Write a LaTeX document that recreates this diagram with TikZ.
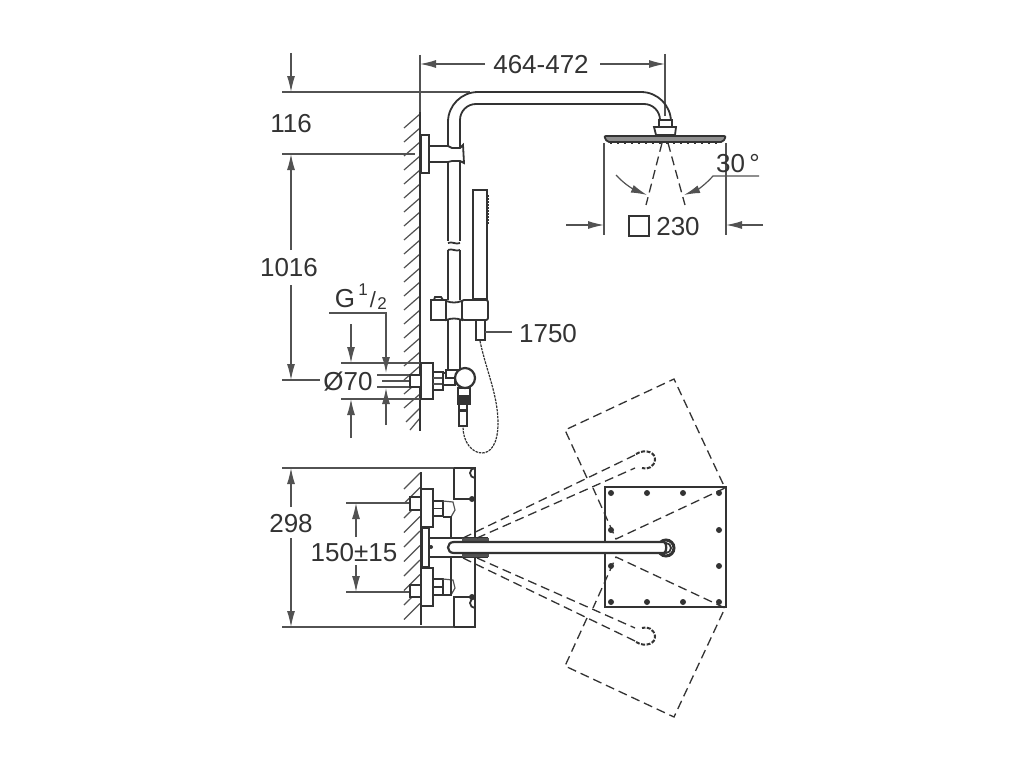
\documentclass[tikz,border=0pt]{standalone}
\usepackage{fontspec}
\setmainfont{Liberation Sans}
\usepackage{pgf,tikz}
\usetikzlibrary{arrows}
\usetikzlibrary{arrows.meta}
\definecolor{ink}{gray}{0.2}
\tikzset{
  part/.style={draw=ink,line width=1.8pt,fill=white},
  edge/.style={draw=ink,line width=1.8pt},
  thinline/.style={draw=ink!85,line width=1.2pt},
  dimarrow/.style={draw=ink!85,line width=1.2pt,-{Latex[length=16pt,width=8pt]}},
  ghost/.style={draw=ink,line width=1.3pt,dash pattern=on 9pt off 5pt},
  hose/.style={draw=ink,line width=1.2pt,dash pattern=on 2.5pt off 1pt},
  dimtext/.style={text=ink,inner sep=0pt,font=\fontsize{26}{30}\selectfont},
  smalltext/.style={text=ink,inner sep=0pt,font=\fontsize{17}{20}\selectfont},
  bolt/.style={fill=ink,draw=none}
}
\begin{document}
\begin{tikzpicture}[x=1pt,y=-1pt]
    \useasboundingbox[fill=white] (0,0) rectangle (1024,768);
    % wall, side view
    \begin{scope}
      \foreach \y in {114,128,...,394} {
        \draw[thinline] (420,\y) -- (404,\y+14);
      }
      \draw[thinline] (420,408) -- (406,422);
      \draw[thinline] (420,418) -- (410,430);
      \draw[thinline] (420,55) -- (420,112);
      \draw[edge] (420,112) -- (420,431);
    \end{scope}
    % dimensions, side view
    \begin{scope}
      \draw[thinline] (282,92) -- (470,92);
      \draw[thinline] (282,154) -- (415,154);
      \draw[thinline] (282,380) -- (320,380);
      \draw[dimarrow] (291,53) -- (291,92);
      \draw[dimarrow] (291,250) -- (291,154);
      \draw[dimarrow] (291,285) -- (291,380);
      \draw[dimarrow] (485,64) -- (420,64);
      \draw[dimarrow] (600,64) -- (665,64);
      \draw[thinline] (665,54) -- (665,116);
      \node[dimtext] (width) at (541,65) {464-472};
      \node[dimtext] (upper) at (291,124) {116};
      \node[dimtext] (height) at (289,268) {1016};
    \end{scope}
    % shower arm and head
    \begin{scope}
      \draw[edge,rounded corners=30pt] (448,300) -- (448,92) -- (671,92) -- (671,120);
      \draw[edge,rounded corners=16pt] (460,300) -- (460,104) -- (660,104) -- (660,120);
      \draw[part] (659,120) rectangle (672,127);
      \draw[part] (654,127) -- (656,135) -- (675,135) -- (676,127) -- cycle;
      \draw[edge,fill=ink!55,rounded corners=2pt] (604,136) -- (726,136) -- (723,142) -- (607,142) -- cycle;
      \draw[ghost,dash pattern=on 2pt off 5pt,line width=1.5pt] (610,143) -- (720,143);
      \draw[ghost] (662,143) -- (646,205);
      \draw[ghost] (668,143) -- (685,205);
      \draw[thinline] (604,143) -- (604,235);
      \draw[thinline] (726,143) -- (726,235);
      \draw[dimarrow] (566,225) -- (604,225);
      \draw[dimarrow] (763,225) -- (726,225);
      \draw[dimarrow] (616,175) .. controls (625,185) and (635,190) .. (647,195);
      \draw[dimarrow] (759,176) -- (713,176) .. controls (705,185) and (697,190) .. (684,195);
      \draw[edge,line width=2.2pt] (629,216) rectangle (649,236);
      \node[dimtext] (size) at (678,227) {230};
      \node[dimtext] (angle) at (738,164) {30\,°};
    \end{scope}
    % wall bracket
    \begin{scope}
      \draw[part] (421,135) rectangle (429,173);
      \draw[part] (429,146) -- (448,146) -- (452,148) -- (460,148) -- (463,145)
        -- (464,163) -- (460,161) -- (452,161) -- (448,162) -- (429,162) -- cycle;
    \end{scope}
    % rail with break
    \begin{scope}
      \fill[white] (446,241) rectangle (462,250);
      \draw[edge,fill=white] (448,243) .. controls (452,241) and (456,245) .. (460,243);
      \draw[edge,fill=white] (448,250) .. controls (452,248) and (456,252) .. (460,250);
      \draw[edge] (448,320) -- (448,371);
      \draw[edge] (460,320) -- (460,371);
    \end{scope}
    % hand shower and slider
    \begin{scope}
      \draw[part] (473,190) rectangle (487,300);
      \draw[ghost,dash pattern=on 1.5pt off 1.5pt,line width=1.5pt] (488,195) -- (488,225);
      \fill[ink] (474,298) rectangle (486,302);
      \draw[part] (431,300) rectangle (446,320);
      \draw[edge] (434,300) -- (435,297) -- (441,297) -- (443,300);
      \draw[part] (446,301) .. controls (452,303) and (456,303) .. (462,301) -- (462,320)
        .. controls (456,318) and (452,318) .. (446,320) -- cycle;
      \draw[part,rounded corners=2pt] (462,300) rectangle (488,320);
      \draw[part] (476,320) -- (485,320) -- (485,340) -- (476,340) -- cycle;
      \draw[thinline] (485,332) -- (512,332);
      \draw[hose] (480,341) .. controls (486,370) and (498,395) .. (498,423)
        .. controls (498,445) and (490,453) .. (482,453)
        .. controls (472,453) and (463,442) .. (463,427);
      \node[dimtext] (hoselen) at (548,334) {1750};
    \end{scope}
    % mixer, side view
    \begin{scope}
      \draw[thinline] (377,375) -- (410,375);
      \draw[thinline] (377,387) -- (410,387);
      \draw[thinline] (382,381) -- (410,381);
      \draw[part] (410,375) rectangle (421,387);
      \draw[thinline] (341,363) -- (421,363);
      \draw[thinline] (341,399) -- (421,399);
      \draw[part] (421,363) rectangle (433,399);
      \draw[part] (433,372) rectangle (443,390);
      \draw[thinline] (433,378) -- (443,378);
      \draw[thinline] (433,384) -- (443,384);
      \draw[part] (443,373) rectangle (455,385);
      \draw[part] (446,370) rectangle (459,378);
      \draw[part] (458,388) rectangle (470,404);
      \fill[ink] (458,395) rectangle (470,403);
      \draw[part] (459,404) rectangle (467,426);
      \fill[ink] (459,409) rectangle (467,412);
      \draw[part,line width=2.2pt] (465,378) circle (10);
      \draw[dimarrow] (351,324) -- (351,363);
      \draw[dimarrow] (351,438) -- (351,399);
      \draw[thinline] (329,313) -- (386,313) -- (386,355);
      \draw[dimarrow] (386,355) -- (386,373);
      \draw[dimarrow] (386,425) -- (386,388);
      \node[dimtext] (dia) at (348,382) {Ø70};
      \node[dimtext] (thread) at (345,299) {G};
      \node[smalltext] (threadnum) at (363,290) {1};
      \node[dimtext,font=\fontsize{22}{26}\selectfont] (threadbar) at (373,300) {/};
      \node[smalltext] (threaddiv) at (382,304) {2};
    \end{scope}
    % wall, top view
    \begin{scope}
      \foreach \y in {473,487.5,...,610} {
        \draw[thinline] (420,\y) -- (404,\y+16);
      }
      \draw[edge] (421,472) -- (421,625);
      \draw[thinline] (282,468) -- (475,468);
      \draw[thinline] (282,627) -- (475,627);
      \draw[thinline] (346,503) -- (410,503);
      \draw[thinline] (346,592) -- (410,592);
      \draw[dimarrow] (291,507) -- (291,468);
      \draw[dimarrow] (291,538) -- (291,627);
      \draw[dimarrow] (356,537) -- (356,503);
      \draw[dimarrow] (356,565) -- (356,592);
      \node[dimtext] (depth) at (291,524) {298};
      \node[dimtext] (centres) at (354,553) {150±15};
    \end{scope}
    % mixer, top view
    \begin{scope}
      \draw[edge] (454,468) -- (475,468) -- (475,627) -- (454,627);
      \draw[edge] (454,468) -- (454,499) -- (475,499);
      \draw[edge] (454,627) -- (454,597) -- (475,597);
      \draw[edge] (475,478) arc (90:270:5);
      \draw[edge] (475,608) arc (90:270:5);
      \draw[bolt] (472,499) circle (3);
      \draw[bolt] (472,597) circle (3);
      \draw[part] (410,497) rectangle (421,510);
      \draw[part] (410,585) rectangle (421,597);
      \draw[part] (433,501) rectangle (443,516);
      \draw[edge] (433,508.5) -- (443,508.5);
      \draw[part] (433,579) rectangle (443,595);
      \draw[edge] (433,587) -- (443,587);
      \draw[thinline] (443,501) -- (453,502) -- (455,510) -- (451,517);
      \draw[thinline] (443,579) -- (453,580) -- (455,588) -- (451,595);
      \draw[edge] (443,517) -- (451,517) -- (451,538);
      \draw[edge] (443,595) -- (451,595) -- (451,557);
      \draw[part] (421,489) rectangle (433,527);
      \draw[part] (421,568) rectangle (433,606);
      \draw[part] (422,528) rectangle (429,567);
      \draw[bolt] (431,547) circle (2);
      \draw[edge] (429,538) -- (488,538);
      \draw[edge] (429,557) -- (488,557);
      \draw[thinline,fill=ink!40] (463,539) rectangle (488,541);
      \draw[thinline,fill=ink!40] (463,554) rectangle (488,556);
    \end{scope}
    % swivel positions of the head
    \begin{scope}
      \draw[ghost] (587,478) -- (565,430) -- (674,379) -- (725,488) -- (616,539) -- (593,488);
      \draw[ghost] (587,618) -- (565,666) -- (674,717) -- (725,608) -- (616,557) -- (593,608);
      \draw[ghost] (463,538) -- (635,455);
      \draw[ghost] (477,538) -- (635,468);
      \draw[ghost] (463,558) -- (635,641);
      \draw[ghost] (477,558) -- (635,628);
      \draw[ghost,dash pattern=on 4pt off 1.5pt,line width=2pt] (636,454) .. controls (646,448) and (656,453) .. (655,460) .. controls (654,467) and (647,470) .. (642,468);
      \draw[ghost,dash pattern=on 4pt off 1.5pt,line width=2pt] (636,642) .. controls (646,648) and (656,643) .. (655,636) .. controls (654,629) and (647,626) .. (642,628);
    \end{scope}
    % head, top view
    \begin{scope}
      \draw[edge,line width=2.6pt] (605,487) rectangle (726,607);
      \foreach \x in {611,647,683,719} {
        \draw[bolt] (\x,493) circle (3);
        \draw[bolt] (\x,602) circle (3);
      }
      \foreach \y in {530,566} {
        \draw[bolt] (611,\y) circle (3);
        \draw[bolt] (719,\y) circle (3);
      }
      \draw[edge,line width=3pt,fill=white] (666,548) circle (8);
      \draw[edge,fill=white] (666,548) circle (5);
      \draw[edge,line width=2.2pt,fill=white] (664,542) -- (454,542)
        .. controls (446,542) and (446,553) .. (454,553) -- (664,553)
        .. controls (667,552) and (667,543) .. (664,542) -- cycle;
    \end{scope}
  \end{tikzpicture}
\end{document}
